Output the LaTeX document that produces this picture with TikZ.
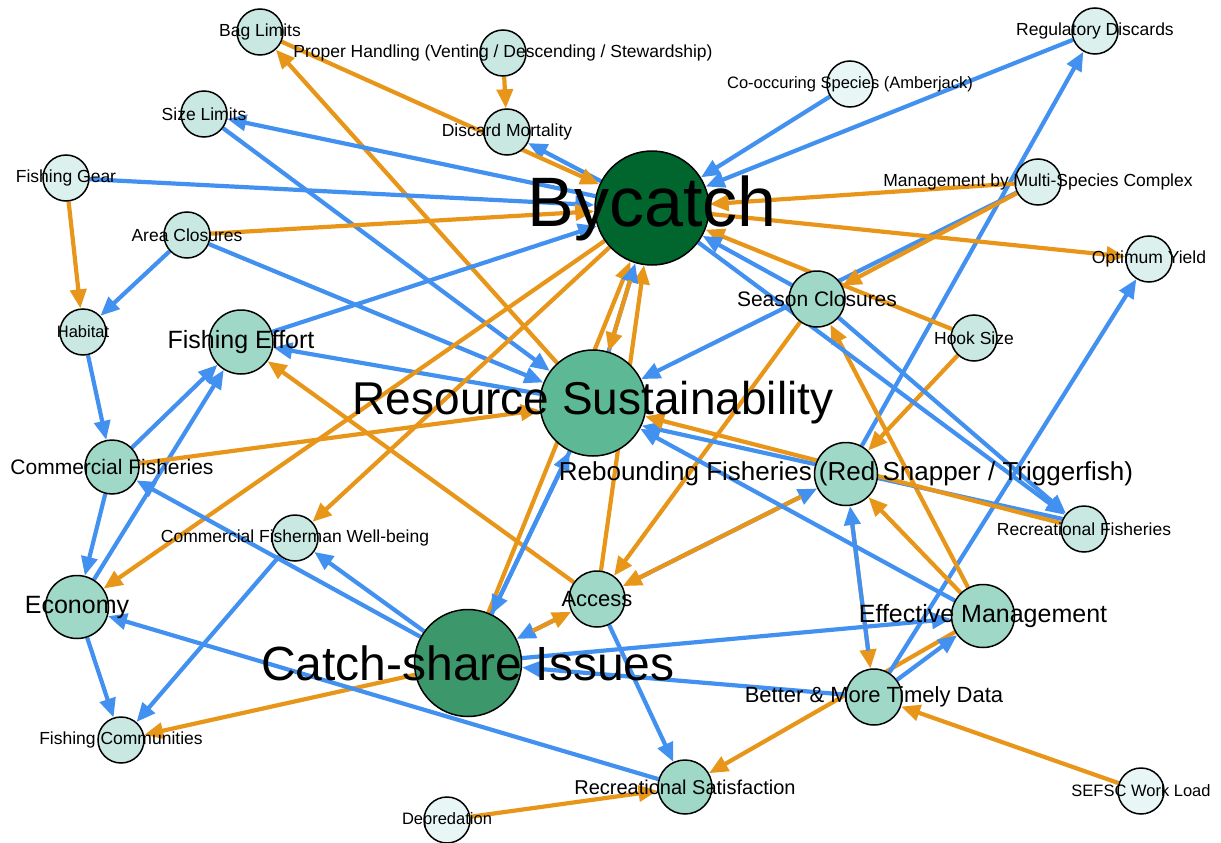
\documentclass[tikz,border=0pt]{standalone}
\usepackage{fontspec}
\setmainfont{Liberation Sans}
\usetikzlibrary{arrows.meta}
\pgfdeclarelayer{edges}
\pgfdeclarelayer{labels}
\pgfsetlayers{edges,main,labels}
\definecolor{eb}{HTML}{4291F0}
\definecolor{eo}{HTML}{E8961A}
\definecolor{cbyc}{HTML}{00662E}
\definecolor{crs}{HTML}{5DB896}
\definecolor{ccs}{HTML}{3C976B}
\definecolor{cmed}{HTML}{A0D8C7}
\definecolor{csa}{HTML}{C9E8E1}
\definecolor{csb}{HTML}{DCF0ED}
\definecolor{csc}{HTML}{E9F6F6}
\tikzset{
  nd/.style={circle, draw=black, line width=1.5pt, inner sep=0pt},
  lb/.style={inner sep=0pt, text=black},
  eB/.style={draw=eb, line width=4.2pt, -{Triangle[length=19pt,width=16pt]}},
  eO/.style={draw=eo, line width=4.2pt, -{Triangle[length=19pt,width=16pt]}},
  sh/.style={shorten <=18pt}
}
\newcommand{\mknode}[7]{%
  \node[nd, fill=#5, minimum size=#4pt] (#1) at (#2,#3) {};
  \begin{pgfonlayer}{labels}
    \node[lb, font=\fontsize{#6}{#6}\selectfont] (#1-t) at (#2,#3) {#7};
  \end{pgfonlayer}}
\newcommand{\ed}[3]{\draw[#1] (#2) -- (#3);}
\begin{document}
\begin{tikzpicture}[x=1pt,y=-1pt]
\useasboundingbox (0,0) rectangle (1221,843);
% nodes
\mknode{byc}{652}{208}{114}{cbyc}{70}{Bycatch}
\mknode{rs}{593}{403}{106}{crs}{46}{Resource Sustainability}
\mknode{cs}{468}{663}{107}{ccs}{48}{Catch-share Issues}
\mknode{fe}{241}{342}{64}{cmed}{25}{Fishing Effort}
\mknode{cf}{112}{467}{54}{cmed}{21}{Commercial Fisheries}
\mknode{eco}{77}{607}{63}{cmed}{25}{Economy}
\mknode{sc}{817}{299}{56}{cmed}{21}{Season Closures}
\mknode{rf}{846}{474}{63}{cmed}{26}{Rebounding Fisheries (Red Snapper / Triggerfish)}
\mknode{em}{983}{616}{63}{cmed}{25}{Effective Management}
\mknode{bmtd}{874}{697}{56}{cmed}{22}{Better \& More Timely Data}
\mknode{acc}{597}{599}{56}{cmed}{22}{Access}
\mknode{rsat}{685}{787}{54}{cmed}{20}{Recreational Satisfaction}
\mknode{bag}{260}{32}{46}{csa}{17.5}{Bag Limits}
\mknode{ph}{503}{53}{46}{csa}{17.5}{Proper Handling (Venting / Descending / Stewardship)}
\mknode{dm}{507}{132}{46}{csa}{17.5}{Discard Mortality}
\mknode{size}{204}{114}{46}{csa}{17.5}{Size Limits}
\mknode{gear}{66}{178}{46}{csb}{17.5}{Fishing Gear}
\mknode{area}{187}{235}{46}{csa}{17.5}{Area Closures}
\mknode{hab}{83}{332}{46}{csa}{16.5}{Habitat}
\mknode{cfw}{295}{538}{46}{csa}{17.5}{Commercial Fisherman Well-being}
\mknode{fc}{121}{740}{46}{csa}{17.5}{Fishing Communities}
\mknode{dep}{447}{820}{46}{csc}{16.5}{Depredation}
\mknode{sefsc}{1141}{791}{46}{csc}{16.5}{SEFSC Work Load}
\mknode{recf}{1084}{529}{46}{csa}{17.5}{Recreational Fisheries}
\mknode{hook}{974}{338}{46}{csa}{17.5}{Hook Size}
\mknode{mmsc}{1038}{182}{46}{csb}{17.5}{Management by Multi-Species Complex}
\mknode{oy}{1149}{259}{46}{csb}{17.5}{Optimum Yield}
\mknode{rd}{1095}{31}{46}{csb}{17.5}{Regulatory Discards}
\mknode{coc}{850}{84}{46}{csc}{16.5}{Co-occuring Species (Amberjack)}
% edges
\begin{pgfonlayer}{edges}
\ed{eO}{ph}{dm}
\ed{eB}{byc}{dm}
\ed{eO}{bag}{byc}
\ed{eO}{rs}{bag}
\ed{eB}{byc}{size}
\ed{eB}{size}{rs}
\ed{eB}{gear}{byc}
\ed{eO}{gear}{hab}
\ed{eB}{area}{hab}
\ed{eO}{area}{byc}
\ed{eB}{area}{rs}
\ed{eB}{fe}{byc}
\ed{eB}{hab}{cf}
\ed{eB}{cf}{fe}
\ed{eB}{eco}{fe}
\ed{eB}{cf}{eco}
\ed{eO}{cf}{rs}
\ed{eB}{rs}{fe}
\ed{eO}{acc}{fe}
\ed{eO}{byc}{cfw}
\ed{eO}{byc}{eco}
\ed{eB}{cs}{cf}
\ed{eB}{cs}{cfw}
\ed{eB}{cfw}{fc}
\ed{eB}{eco}{fc}
\ed{eO}{cs}{fc}
\ed{eB}{rsat}{eco}
\ed{eO}{cs}{byc}
\ed{eO}{acc}{byc}
\ed{eB}{rs}{byc}
\ed{eO,sh}{byc}{rs}
\ed{eB}{cs}{rs}
\ed{eB}{rs}{cs}
\ed{eB,sh}{acc}{cs}
\ed{eO,sh}{cs}{acc}
\ed{eB}{acc}{rsat}
\ed{eO}{em}{rsat}
\ed{eO}{dep}{rsat}
\ed{eB}{cs}{em}
\ed{eB}{bmtd}{cs}
\ed{eB}{bmtd}{em}
\ed{eO}{sefsc}{bmtd}
\ed{eO,sh}{rf}{bmtd}
\ed{eB,sh}{bmtd}{rf}
\ed{eB}{bmtd}{oy}
\ed{eB}{rf}{rd}
\ed{eB,sh}{acc}{rf}
\ed{eO,sh}{rf}{acc}
\ed{eO}{sc}{acc}
\ed{eB}{mmsc}{rs}
\ed{eO}{em}{sc}
\ed{eO}{em}{rf}
\ed{eO}{hook}{rf}
\ed{eO}{hook}{byc}
\ed{eB}{em}{rs}
\ed{eB}{recf.155}{rs.-25}
\ed{eO}{recf}{rs}
\ed{eO}{mmsc}{sc}
\ed{eO}{mmsc}{byc}
\ed{eO}{byc}{oy}
\ed{eB}{coc}{byc}
\ed{eB}{rd}{byc}
\ed{eB}{sc}{recf}
\ed{eB}{byc}{recf}
\ed{eB}{sc}{byc}
\end{pgfonlayer}
\end{tikzpicture}
\end{document}
